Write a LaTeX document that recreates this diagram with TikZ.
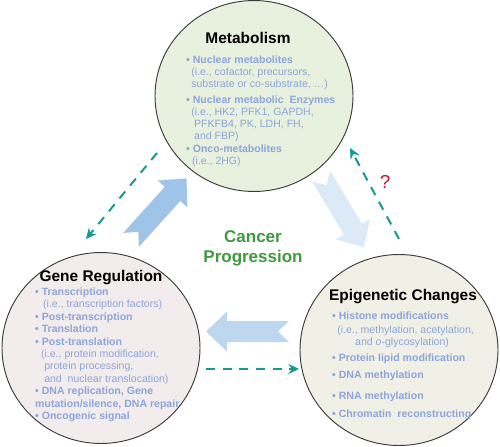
\documentclass[tikz,border=0pt]{standalone}
\usepackage{fontspec}
\setmainfont{Liberation Sans}
\usetikzlibrary{shapes.geometric,arrows.meta}

\definecolor{metabFill}{HTML}{E8F0DE}
\definecolor{geneFill}{HTML}{F2ECEC}
\definecolor{epiFill}{HTML}{F0F0E6}
\definecolor{circleLine}{HTML}{3A3A3A}
\definecolor{itemBlue}{HTML}{8CA5DC}
\definecolor{progGreen}{HTML}{3F9A3F}
\definecolor{loopTeal}{HTML}{149A8E}
\definecolor{askRed}{HTML}{C8102E}
\definecolor{arrowDark}{HTML}{A0C4E8}
\definecolor{arrowPale}{HTML}{DCE9F6}
\definecolor{arrowMid}{HTML}{BDD7EE}

% big block arrow: tail centre, angle, colour
\newcommand{\fatArrow}[3]{%
  \fill[#3, shift={#1}, rotate=#2] (0,-10.5) -- (62,-10.5) -- (62,-20) -- (83,0)
    -- (62,20) -- (62,10.5) -- (0,10.5) -- (11,0) -- cycle;}

\begin{document}
\begin{tikzpicture}[x=0.03cm, y=-0.03cm, font=\fontsize{9}{10.4}\selectfont]

	\tikzstyle{circleBox} = [draw=circleLine, line width=0.8pt, ellipse, minimum width=169pt, minimum height=163pt, inner sep=0pt]
	\tikzstyle{titleText} = [font=\fontsize{13.2}{15}\selectfont\bfseries]
	\tikzstyle{itemText} = [text=itemBlue, align=left, anchor=north west, inner sep=0pt]
	\tikzstyle{feedBack} = [loopTeal, line width=1.7pt, dash pattern=on 7.7pt off 6.5pt, -{Stealth[length=9pt,width=8.5pt,inset=3pt]}]

	\useasboundingbox (0,0) rectangle (500,447);

	% Circles
	\node[circleBox, fill=metabFill] (metab) at (254,96) {};
	\node[circleBox, fill=geneFill] (gene) at (101,348) {};
	\node[circleBox, fill=epiFill] (epi) at (399,350) {};

	% Block arrows
	\fatArrow{(131,240)}{48}{arrowDark}
	\fatArrow{(321,176)}{-59}{arrowPale}
	\fatArrow{(289,331.5)}{180}{arrowMid}

	% Titles
	\node[titleText] (metabTitle) at (248,38) {Metabolism};
	\node[titleText] (geneTitle) at (101,278) {Gene Regulation};
	\node[titleText] (epiTitle) at (403,297) {Epigenetic Changes};
	\node[font=\fontsize{14.5}{17}\selectfont\bfseries, text=progGreen, align=center] (progress) at (253,248) {Cancer\\Progression};

	% Items
	\node[itemText] (metabItems) at (186,55.5) {%
		\textbf{\textbullet\ Nuclear metabolites}\\
		\hspace*{4.3pt}(i.e., cofactor, precursors,\\
		\hspace*{4.3pt}substrate or co-substrate, …)\\[3pt]
		\textbf{\textbullet\ Nuclear metabolic\ \ Enzymes}\\
		\hspace*{4.3pt}(i.e., HK2, PFK1, GAPDH,\\
		\hspace*{6.8pt}PFKFB4, PK, LDH, FH,\\
		\hspace*{6.8pt}and FBP)\\
		\textbf{\textbullet\ Onco-metabolites}\\
		\hspace*{5pt}(i.e., 2HG)};

	\node[itemText, font=\fontsize{9}{10.6}\selectfont] (geneItems) at (35,287.5) {%
		\textbf{\textbullet\ Transcription}\\
		\hspace*{6.8pt}(i.e., transcription factors)\\
		\textbf{\textbullet\ Post-transcription}\\
		\textbf{\textbullet\ Translation}\\
		\textbf{\textbullet\ Post-translation}\\
		\hspace*{5pt}(i.e., protein modification,\\
		\hspace*{7.7pt}protein processing,\\
		\hspace*{7.7pt}and\ \ nuclear translocation)\\
		\textbf{\textbullet\ DNA replication, Gene}\\
		\textbf{mutation/silence, DNA repair}\\
		\textbf{\textbullet\ Oncogenic signal}};

	\node[itemText] (epiItems) at (332,311.5) {%
		\textbf{\textbullet\ Histone modifications}\\[1.5pt]
		\hspace*{4.3pt}(i.e., methylation, acetylation,\\
		\hspace*{19.6pt}and \textit{o}-glycosylation)\\[3.2pt]
		\textbf{\textbullet\ Protein lipid modification}\\[4.1pt]
		\textbf{\textbullet\ DNA methylation}\\[7.5pt]
		\textbf{\textbullet\ RNA methylation}\\[5pt]
		\textbf{\textbullet\ Chromatin\ \ reconstructing}};

	% Feedback arrows
	\coordinate (metabOut) at (157,153);
	\coordinate (geneIn) at (86,239);
	\coordinate (geneOut) at (206,369);
	\coordinate (epiIn) at (299,369);
	\coordinate (epiOut) at (399,239);
	\coordinate (metabIn) at (350,148);
	\draw[feedBack] (metabOut) -- (geneIn);
	\draw[feedBack] (geneOut) -- (epiIn);
	\draw[feedBack] (epiOut) -- (metabIn);
	\node[text=askRed, font=\fontsize{16}{18}\selectfont] (ask) at (385,182) {?};

\end{tikzpicture}
\end{document}
